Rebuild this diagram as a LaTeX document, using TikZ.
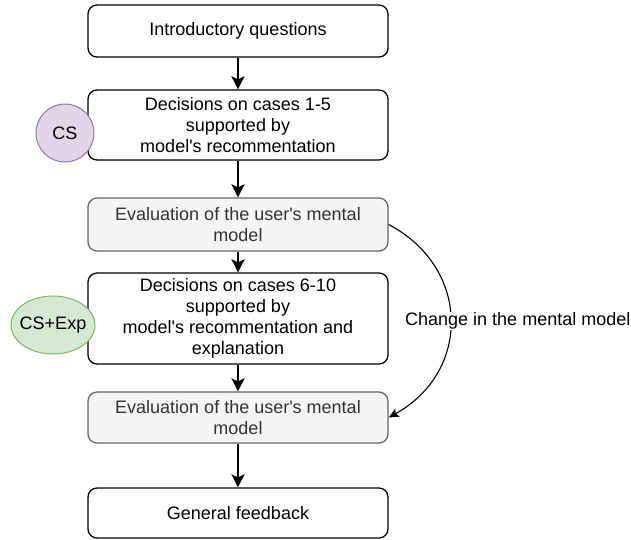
\documentclass[tikz,border=0pt]{standalone}
\usepackage{fontspec}
\setmainfont{Liberation Sans}[Ligatures=TeXOff]
\usetikzlibrary{arrows.meta,shapes.geometric}
\begin{document}
\begin{tikzpicture}[x=1pt, y=-1pt,
  txt/.style={font=\fontsize{18}{20.8}\selectfont},
  box/.style={txt, draw=black, fill=white, rounded corners=9pt, line width=1.3pt, minimum width=300pt, align=center},
  evalbox/.style={box, draw=evalline, fill=evalfill, text=evaltext},
  flow/.style={line width=2.6pt, -{Stealth[length=13pt, width=13pt, inset=3pt]}},
  change/.style={line width=1.1pt, -{Stealth[length=10pt, width=9pt, inset=2pt]}}]
\definecolor{evalline}{HTML}{666666}
\definecolor{evalfill}{HTML}{F5F5F5}
\definecolor{evaltext}{HTML}{333333}
\definecolor{csline}{HTML}{9673A6}
\definecolor{csfill}{HTML}{E1D5E7}
\definecolor{expline}{HTML}{82B366}
\definecolor{expfill}{HTML}{D5E8D4}
\useasboundingbox (0,0) rectangle (631,539);
% main column
\node[box, minimum height=52pt] (intro) at (238,31) {Introductory questions};
\node[box, minimum height=70pt] (cases1) at (238,125) {Decisions on cases 1-5\\supported by\\model's recommentation};
\node[evalbox, minimum height=53pt] (eval1) at (238,224.5) {Evaluation of the user's mental\\model};
\node[box, minimum height=91pt] (cases2) at (238,318.5) {Decisions on cases 6-10\\supported by\\model's recommentation and\\explanation};
\node[evalbox, minimum height=51pt] (eval2) at (238,417.5) {Evaluation of the user's mental\\model};
\node[box, minimum height=50pt] (feedback) at (238,513) {General feedback};
\foreach \a/\b in {intro/cases1, cases1/eval1, eval1/cases2, cases2/eval2, eval2/feedback}
  \draw[flow] (\a) -- (\b);
% conditions
\node[txt, circle, draw=csline, fill=csfill, line width=1pt, minimum size=58pt, inner sep=0pt] (cs) at (65,133) {CS};
\node[ellipse, draw=expline, fill=expfill, line width=1pt, minimum width=84pt, minimum height=58pt, inner sep=0pt,
  label={[txt]center:CS+Exp}] (csexp) at (53,325) {};
% feedback loop
\draw[change] (eval1.east) .. controls (471,268) and (471,372) .. (eval2.east);
\node[txt, fill=white, inner sep=1pt, anchor=west] (shift) at (404,321) {Change in the mental model};
\end{tikzpicture}
\end{document}
